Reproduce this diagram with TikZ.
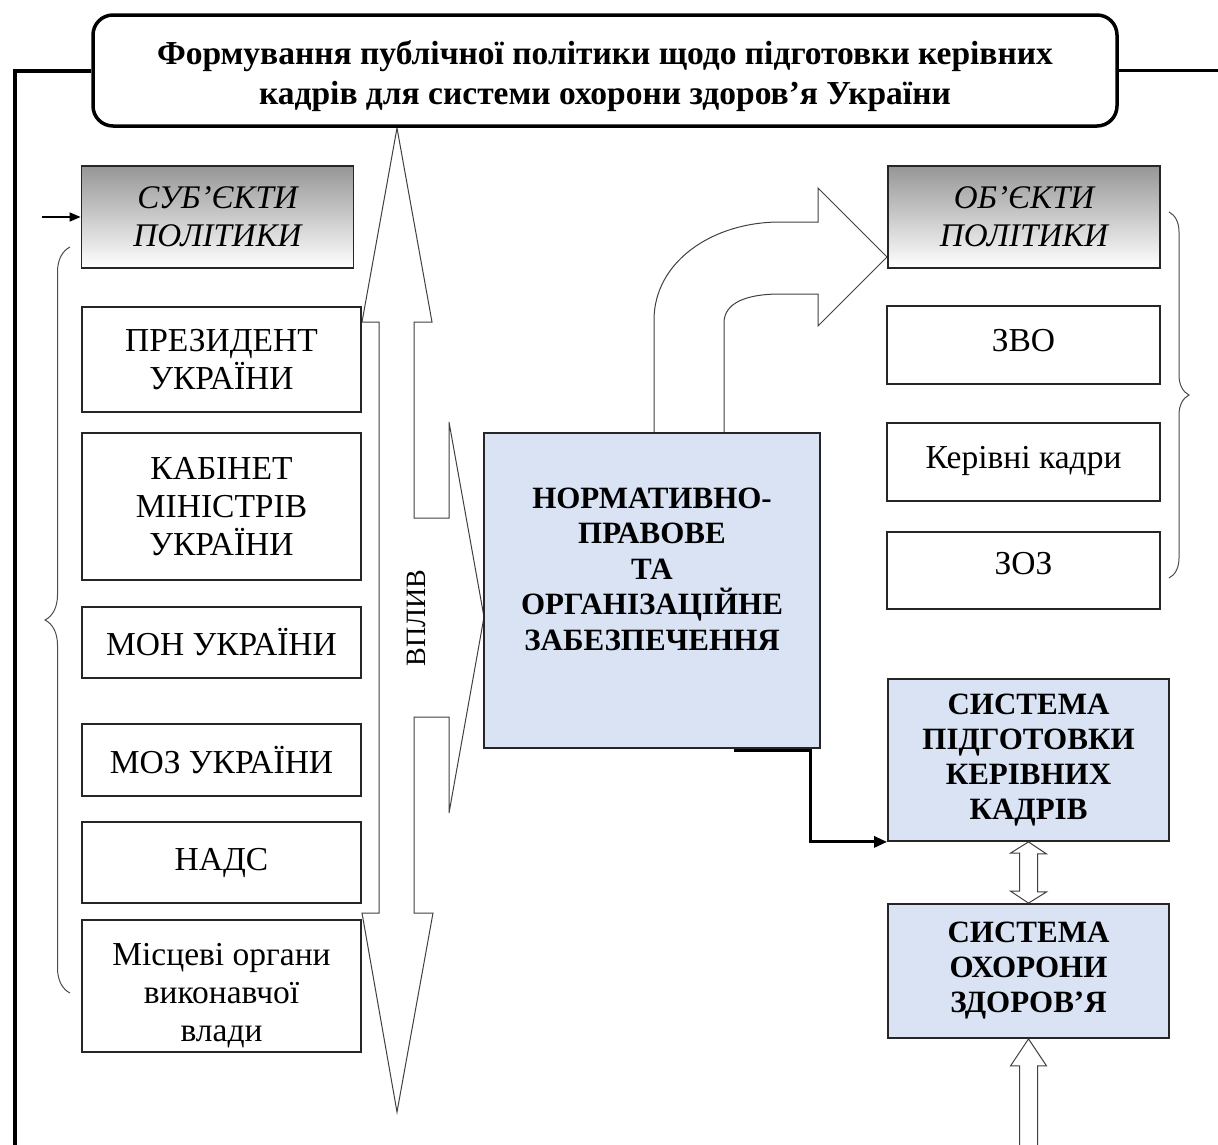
\documentclass[tikz,border=0pt]{standalone}
\usepackage{fontspec}
\setmainfont{Liberation Serif}
\usetikzlibrary{arrows.meta,decorations.pathreplacing}
\definecolor{boxblue}{RGB}{218,227,243}
\definecolor{headgray}{RGB}{150,150,150}
\tikzset{
  box/.style={shape=rectangle,draw=black!85,line width=1.8pt,align=center,inner sep=0pt},
  titlebox/.style={shape=rectangle,draw,rounded corners=20pt,line width=3.5pt,align=center,
    minimum width=1024pt,minimum height=111pt,text height=75pt,text depth=8pt,
    font=\fontsize{33.5}{40}\selectfont\bfseries},
  leftbox/.style={box,minimum width=279pt,font=\fontsize{33.5}{38}\selectfont},
  rightbox/.style={box,minimum width=273pt,minimum height=78pt,text height=23pt,text depth=11pt,
    font=\fontsize{33.5}{35}\selectfont},
  headbox/.style={box,minimum width=272pt,minimum height=102pt,top color=headgray,bottom color=white,
    font=\fontsize{33}{38}\selectfont\itshape},
  bluebox/.style={box,fill=boxblue,minimum width=281pt,font=\fontsize{31}{35}\selectfont\bfseries},
  blockarrow/.style={draw=black!75,line width=1pt,fill=white,line join=miter},
  curly/.style={draw=black!70,line width=1pt,decorate,decoration={brace,amplitude=#1}}
}
\begin{document}
\begin{tikzpicture}[x=1pt,y=-1pt]
\useasboundingbox[fill=white] (0,0) rectangle (1218,1144);

\draw[blockarrow] (397,128) -- (432,322) -- (414,322) -- (414,518) -- (449,518) -- (449,422)
  -- (484,617) -- (449,813) -- (449,717) -- (414,717) -- (414,913) -- (433,913) -- (397,1112)
  -- (362,913) -- (379,913) -- (379,322) -- (362,322) -- cycle;
\node(vplyv) at (416,618)[rotate=90,font=\fontsize{28}{28}\selectfont]        {ВПЛИВ};

\draw[blockarrow] (654,433) -- (654,320) .. controls (654,262) and (712,222) .. (780,222)
  -- (818,222) -- (818,188) -- (887,257) -- (818,326) -- (818,294) -- (780,294)
  .. controls (748,294) and (724,302) .. (724,323) -- (724,433);

\node(title) at (605,70.5)[titlebox]        {Формування публічної політики щодо підготовки керівних\\кадрів для системи охорони здоров’я України};
\coordinate(leftend) at (15,1150);
\coordinate(rightend) at (1222,70.5);
\coordinate(subjin) at (42,217);

\node(subj) at (217.5,217)[headbox]        {СУБ’ЄКТИ\\ПОЛІТИКИ};
\node(prez) at (221.5,359.5)[leftbox,minimum height=105pt]        {ПРЕЗИДЕНТ\\УКРАЇНИ};
\node(kmu) at (221.5,506.5)[leftbox,minimum height=147pt]        {КАБІНЕТ\\МІНІСТРІВ\\УКРАЇНИ};
\node(mon) at (221.5,642.5)[leftbox,minimum height=71pt]        {МОН УКРАЇНИ};
\node(moz) at (221.5,760)[leftbox,minimum height=72pt]        {МОЗ УКРАЇНИ};
\node(nads) at (221.5,862.5)[leftbox,minimum height=81pt]        {НАДС};
\node(local) at (221.5,986)[leftbox,minimum height=132pt,text height=118pt,text depth=8pt]        {Місцеві органи\\виконавчої\\влади};

\node(norm) at (652,590.5)[bluebox,minimum width=336pt,minimum height=315pt]        {};
\node(normtext) at (652,569)[align=center,font=\fontsize{31}{35.5}\selectfont\bfseries]        {НОРМАТИВНО-\\ПРАВОВЕ\\ТА\\ОРГАНІЗАЦІЙНЕ\\ЗАБЕЗПЕЧЕННЯ};

\node(obj) at (1024,217)[headbox]        {ОБ’ЄКТИ\\ПОЛІТИКИ};
\node(zvo) at (1023.5,345)[rightbox]        {ЗВО};
\node(kadry) at (1023.5,462)[rightbox]        {Керівні кадри};
\node(zoz) at (1023.5,570.5)[rightbox,minimum height=77pt,text depth=15pt]        {ЗОЗ};

\node(sysprep) at (1028.5,760)[bluebox,minimum height=162pt]        {СИСТЕМА\\ПІДГОТОВКИ\\КЕРІВНИХ\\КАДРІВ};
\node(syshealth) at (1028.5,971)[bluebox,minimum height=134pt]        {СИСТЕМА\\ОХОРОНИ\\ЗДОРОВ’Я};

\draw[line width=4pt] (title.west) -| (leftend);
\draw[line width=3.5pt] (title.east) -- (rightend);
\draw[line width=1.5pt,-{Triangle[length=11pt,width=9pt]}] (subjin) -- (subj.west);
\draw[line width=3pt,-{Triangle[length=13pt,width=11pt]}] (norm.south) ++(82,1.5) -- ++(76,0) |- (sysprep.south west);

\draw[blockarrow] (sysprep.south) -- ++(18,12) -- ++(-9,0) -- ++(0,38) -- ++(9,0) -- (syshealth.north)
  -- ++(-18,-12) -- ++(9,0) -- ++(0,-38) -- ++(-9,0) -- cycle;
\draw[blockarrow] (syshealth.south) -- ++(18,27) -- ++(-9,0) -- ++(0,85) -- ++(-18,0) -- ++(0,-85) -- ++(-9,0) -- cycle;

\draw[curly=25pt] (70,993) -- (70,247);
\draw[curly=20pt] (1169,212) -- (1169,578);

\end{tikzpicture}
\end{document}
